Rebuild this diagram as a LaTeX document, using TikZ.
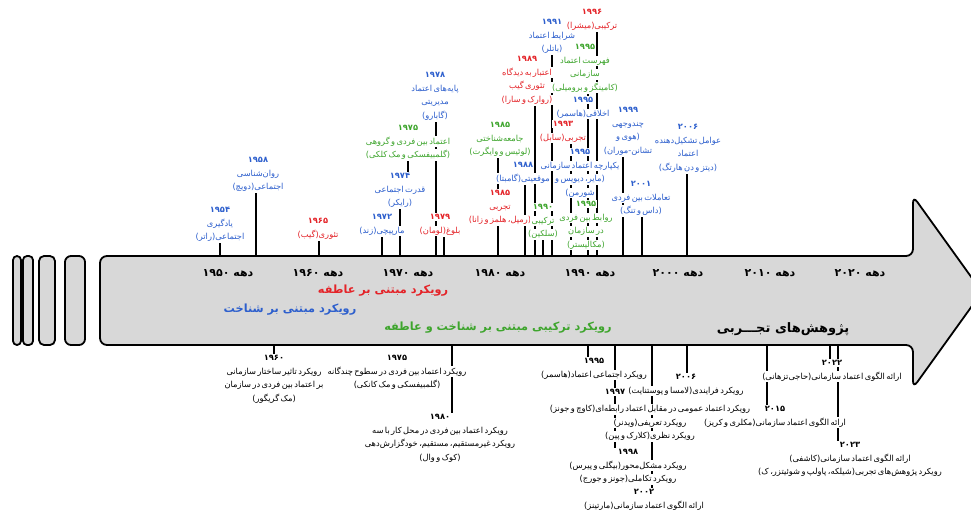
\documentclass[tikz,border=0pt]{standalone}
\usepackage{fontspec}
\newfontfamily\arabicfont[Script=Arabic]{DejaVu Sans}
\TeXXeTstate=1
\usetikzlibrary{backgrounds}
\definecolor{cblue}{RGB}{45,95,205}
\definecolor{cred}{RGB}{228,35,40}
\definecolor{cgreen}{RGB}{62,165,45}
\definecolor{agray}{RGB}{216,216,216}
\newcommand\rl[1]{\beginR #1\endR}
\newcommand\rw[1]{{\setlength{\fboxsep}{1.2pt}\spaceskip=0.17em\relax\colorbox{white}{\beginR #1\endR}}}
\newcommand\ry[1]{{\bfseries\rw{#1}}}
\newcommand\zw{^^^^200c}
\tikzset{
  lbl/.style={font=\arabicfont\fontsize{8.3}{13.5}\selectfont, align=center, inner sep=0pt, anchor=north},
  blu/.style={lbl, text=cblue},
  rd/.style={lbl, text=cred},
  grn/.style={lbl, text=cgreen},
  blk/.style={lbl, text=black},
  dec/.style={font=\arabicfont\bfseries\fontsize{11}{12}\selectfont, inner sep=0pt},
  head/.style={font=\arabicfont\bfseries\fontsize{11.3}{13}\selectfont, inner sep=0pt},
  tick/.style={line width=1.1pt, black},
  frame/.style={draw=black, line width=1.8pt, fill=agray, rounded corners=6pt},
}
\begin{document}
\begin{tikzpicture}[x=1pt, y=-1pt]
\useasboundingbox (0,0) rectangle (971,516);
\begin{pgfonlayer}{background}
\fill[white] (0,0) rectangle (971,516);
\end{pgfonlayer}

% left bars
\draw[frame, rounded corners=4pt] (13,256) rectangle (21,345);
\draw[frame, rounded corners=4pt] (23,256) rectangle (33,345);
\draw[frame, rounded corners=5pt] (39,256) rectangle (55,345);
\draw[frame, rounded corners=6pt] (65,256) rectangle (85,345);

% big arrow
\draw[frame, rounded corners=7pt] (100,300) |- (913,256) -- (913,196) -- (982,292) -- (913,388) -- (913,345) -| (100,300) -- cycle;

% decades
\node[dec] (d1950) at (228,273) {\rl{دهه ۱۹۵۰}};
\node[dec] (d1960) at (318,273) {\rl{دهه ۱۹۶۰}};
\node[dec] (d1970) at (408,273) {\rl{دهه ۱۹۷۰}};
\node[dec] (d1980) at (500,273) {\rl{دهه ۱۹۸۰}};
\node[dec] (d1990) at (590,273) {\rl{دهه ۱۹۹۰}};
\node[dec] (d2000) at (678,273) {\rl{دهه ۲۰۰۰}};
\node[dec] (d2010) at (770,273) {\rl{دهه ۲۰۱۰}};
\node[dec] (d2020) at (860,273) {\rl{دهه ۲۰۲۰}};

% headings
\node[head, text=cred] (hAff) at (383,291) {\rl{رویکرد مبتنی بر عاطفه}};
\node[head, text=cblue] (hCog) at (290,310) {\rl{رویکرد مبتنی بر شناخت}};
\node[head, text=cgreen] (hMix) at (498,328) {\rl{رویکرد ترکیبی مبتنی بر شناخت و عاطفه}};
\node[head, font=\arabicfont\bfseries\fontsize{13}{15}\selectfont] (hEmp) at (783,329) {\rl{پژوهش\zw های تجـــربی}};

% axis anchor points (top)
\foreach \n/\x in {1954/220,1958/256,1965/319,1972/382,1974/400,1978/436,1979/444,1985/498,1988/525,1989/535,1990/543,1991/552,1993/571,1995/588,1996/597,1999/623,2001/642,2006/687}
  \coordinate (u\n) at (\x,256);
% axis anchor points (bottom)
\foreach \n/\x in {1960/274,1980/452,1995/588,1997/615,2002/652,2006/687,2015/767,2022/830,2023/838}
  \coordinate (b\n) at (\x,345);

% labels above
\node[blu] (A1954) at (220,206) {\ry{۱۹۵۴}\\\rw{یادگیری}\\\rw{اجتماعی(راتر)}};
\node[blu] (A1958) at (258,156) {\ry{۱۹۵۸}\\\rw{روان\zw شناسی}\\\rw{اجتماعی(دویچ)}};
\node[rd]  (A1965) at (318,217) {\ry{۱۹۶۵}\\\rw{تئوری(گیب)}};
\node[blu] (A1972) at (382,213) {\ry{۱۹۷۲}\\\rw{مارپیچی(زند)}};
\node[blu] (A1974) at (400,172) {\ry{۱۹۷۴}\\\rw{قدرت اجتماعی}\\\rw{(رایکر)}};
\node[grn] (A1975) at (408,124) {\ry{۱۹۷۵}\\\rw{اعتماد بین فردی و گروهی}\\\rw{(گلمبیفسکی و مک کلکی)}};
\node[blu] (A1978) at (435,71) {\ry{۱۹۷۸}\\\rw{پایه\zw های اعتماد}\\\rw{مدیریتی}\\\rw{(گابارو)}};
\node[rd]  (A1979) at (440,213) {\ry{۱۹۷۹}\\\rw{بلوغ(لومان)}};
\node[grn] (A1985g) at (500,121) {\ry{۱۹۸۵}\\\rw{جامعه\zw شناختی}\\\rw{(لوئیس و وایگرت)}};
\node[rd]  (A1985r) at (500,189) {\ry{۱۹۸۵}\\\rw{تجربی}\\\rw{(رمپل، هلمز و زانا)}};
\node[blu] (A1988) at (523,161) {\ry{۱۹۸۸}\\\rw{موقعیتی(گامبتا)}};
\node[rd]  (A1989) at (527,55) {\ry{۱۹۸۹}\\\rw{اعتبار به دیدگاه}\\\rw{تئوری گیب}\\\rw{(روارک و سارا)}};
\node[grn] (A1990) at (543,203) {\ry{۱۹۹۰}\\\rw{ترکیبی}\\\rw{(سلکین)}};
\node[blu] (A1991) at (552,18) {\ry{۱۹۹۱}\\\rw{شرایط اعتماد}\\\rw{(باتلر)}};
\node[rd]  (A1996) at (592,8) {\ry{۱۹۹۶}\\\rw{ترکیبی(میشرا)}};
\node[grn] (A1995g) at (585,43) {\ry{۱۹۹۵}\\\rw{فهرست اعتماد}\\\rw{سازمانی}\\\rw{(کامینگز و برومیلی)}};
\node[blu] (A1995b) at (583,96) {\ry{۱۹۹۵}\\\rw{اخلاقی(هاسمر)}};
\node[rd]  (A1993) at (563,120) {\ry{۱۹۹۳}\\\rw{تجربی(سابل)}};
\node[blu] (A1999) at (628,106) {\ry{۱۹۹۹}\\\rw{چندوجهی}\\\rw{(هوی و}\\\rw{تشانن-موران)}};
\node[blu] (A1995c) at (580,148) {\ry{۱۹۹۵}\\\rw{یکپارچه اعتماد سازمانی}\\\rw{(مایر، دیویس و}\\\rw{شورمن)}};
\node[grn] (A1995d) at (586,200) {\ry{۱۹۹۵}\\\rw{روابط بین فردی}\\\rw{در سازمان}\\\rw{(مکالیستر)}};
\node[blu] (A2001) at (641,180) {\ry{۲۰۰۱}\\\rw{تعاملات بین فردی}\\\rw{(داس و تنگ)}};
\node[blu] (A2006) at (688,123) {\ry{۲۰۰۶}\\\rw{عوامل تشکیل\zw دهنده}\\\rw{اعتماد}\\\rw{(دیتز و دن هارتگ)}};

% labels below
\node[blk] (B1960) at (274,354) {\ry{۱۹۶۰}\\\rw{رویکرد تاثیر ساختار سازمانی}\\\rw{بر اعتماد بین فردی در سازمان}\\\rw{(مک گریگور)}};
\node[blk] (B1975) at (397,354) {\ry{۱۹۷۵}\\\rw{رویکرد اعتماد بین فردی در سطوح چندگانه}\\\rw{(گلمبیفسکی و مک کانکی)}};
\node[blk] (B1980) at (440,413) {\ry{۱۹۸۰}\\\rw{رویکرد اعتماد بین فردی در محل کار با سه}\\\rw{رویکرد غیرمستقیم، مستقیم، خودگزارش\zw دهی}\\\rw{(کوک و وال)}};
\node[blk] (B1995) at (594,357) {\ry{۱۹۹۵}\\\rw{رویکرد اجتماعی اعتماد(هاسمر)}};
\node[blk] (B2006) at (686,373) {\ry{۲۰۰۶}\\\rw{رویکرد فرایندی(لامسا و پوستنایت)}};
\node[blk] (B1997y) at (615,388) {\ry{۱۹۹۷}};
\node[blk] (B1997) at (650,404) {\rw{رویکرد اعتماد عمومی در مقابل اعتماد رابطه\zw ای(کاوچ و جونز)}\\\rw{رویکرد تعریفی(ویدنر)}\\\rw{رویکرد نظری(کلارک و پین)}};
\node[blk] (B1998) at (628,448) {\ry{۱۹۹۸}\\\rw{رویکرد مشکل\zw محور(بیگلی و پیرس)}\\\rw{رویکرد تکاملی(جونز و جورج)}};
\node[blk] (B2002) at (644,488) {\ry{۲۰۰۲}\\\rw{ارائه الگوی اعتماد سازمانی(مارتینز)}};
\node[blk] (B2022) at (832,359) {\ry{۲۰۲۲}\\\rw{ارائه الگوی اعتماد سازمانی(حاجی\zw تزهانی)}};
\node[blk] (B2015) at (775,405) {\ry{۲۰۱۵}\\\rw{ارائه الگوی اعتماد سازمانی(مکلری و کریز)}};
\node[blk] (B2023) at (850,441) {\ry{۲۰۲۳}\\\rw{ارائه الگوی اعتماد سازمانی(کاشفی)}\\\rw{رویکرد پژوهش\zw های تجربی(شیلکه، پاولپ و شوئیتزر، ک)}};

% connectors (behind the labels)
\begin{pgfonlayer}{background}
\draw[tick] (u1954) -- (u1954 |- A1954.south);
\draw[tick] (u1958) -- (u1958 |- A1958.south);
\draw[tick] (u1965) -- (u1965 |- A1965.south);
\draw[tick] (u1972) -- (u1972 |- A1972.south);
\draw[tick] (u1974) -- (u1974 |- A1974.south);
\draw[tick] (A1974.north -| A1975.south) -- (A1975.south);
\draw[tick] (u1978) -- (u1978 |- A1978.south);
\draw[tick] (u1979) -- (u1979 |- A1979.south);
\draw[tick] (u1985) -- (u1985 |- A1985r.south);
\draw[tick] (u1985 |- A1985r.north) -- (u1985 |- A1985g.south);
\draw[tick] (u1988) -- (u1988 |- A1988.south);
\draw[tick] (u1989) -- (u1989 |- A1989.south);
\draw[tick] (u1990) -- (u1990 |- A1990.south);
\draw[tick] (u1991) -- (u1991 |- A1991.south);
\draw[tick] (u1993) -- (u1993 |- A1993.south);
\draw[tick] (u1995) -- (u1995 |- A1995g.south);
\draw[tick] (u1996) -- (u1996 |- A1996.south);
\draw[tick] (u1999) -- (u1999 |- A1999.south);
\draw[tick] (u2001) -- (u2001 |- A2001.south);
\draw[tick] (u2006) -- (u2006 |- A2006.south);
\draw[tick] (b1960) -- (b1960 |- B1960.north);
\draw[tick] (b1980) -- (b1980 |- B1980.north);
\draw[tick] (b1995) -- (b1995 |- B1995.north);
\draw[tick] (b1997) -- (b1997 |- B1998.north);
\draw[tick] (b2002) -- (b2002 |- B2002.north);
\draw[tick] (b2006) -- (b2006 |- B2006.north);
\draw[tick] (b2015) -- (b2015 |- B2015.north);
\draw[tick] (b2022) -- (b2022 |- B2022.north);
\draw[tick] (b2023) -- (b2023 |- B2023.north);
\end{pgfonlayer}
\end{tikzpicture}
\end{document}
